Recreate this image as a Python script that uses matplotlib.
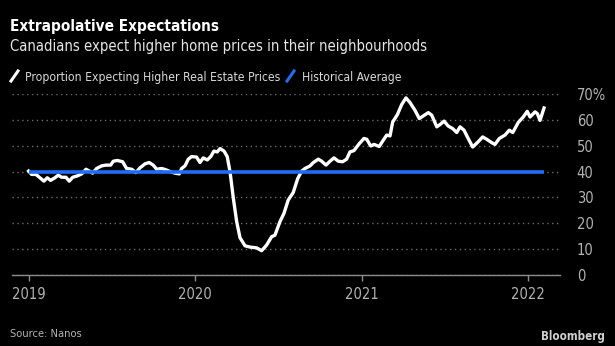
import matplotlib
matplotlib.use("Agg")
import matplotlib.pyplot as plt
from matplotlib.lines import Line2D

# ---- data ----
years = [2018.998, 2019.016, 2019.042, 2019.066, 2019.090, 2019.110, 2019.130, 2019.156, 2019.176,
         2019.197, 2019.222, 2019.242, 2019.263, 2019.290, 2019.317, 2019.343, 2019.363, 2019.383,
         2019.407, 2019.437, 2019.463, 2019.491, 2019.507, 2019.531, 2019.563, 2019.587, 2019.618,
         2019.643, 2019.667, 2019.698, 2019.723, 2019.747, 2019.768, 2019.798, 2019.824, 2019.852,
         2019.878, 2019.904, 2019.918, 2019.938, 2019.958, 2019.978, 2020.008, 2020.028, 2020.048,
         2020.072, 2020.093, 2020.112, 2020.132, 2020.149, 2020.173, 2020.192, 2020.209, 2020.229,
         2020.249, 2020.269, 2020.299, 2020.329, 2020.369, 2020.399, 2020.429, 2020.459, 2020.479,
         2020.509, 2020.533, 2020.559, 2020.589, 2020.616, 2020.640, 2020.660, 2020.690, 2020.710,
         2020.740, 2020.760, 2020.786, 2020.810, 2020.834, 2020.860, 2020.886, 2020.910, 2020.930,
         2020.954, 2020.986, 2021.014, 2021.031, 2021.055, 2021.075, 2021.106, 2021.130, 2021.151,
         2021.171, 2021.187, 2021.215, 2021.241, 2021.267, 2021.291, 2021.321, 2021.347, 2021.371,
         2021.401, 2021.422, 2021.452, 2021.472, 2021.496, 2021.521, 2021.548, 2021.572, 2021.592,
         2021.616, 2021.636, 2021.668, 2021.696, 2021.728, 2021.752, 2021.782, 2021.802, 2021.828,
         2021.862, 2021.888, 2021.909, 2021.942, 2021.972, 2021.996, 2022.013, 2022.043, 2022.057,
         2022.073, 2022.097]
proportion = [40.2, 38.9, 38.9, 37.6, 36.3, 37.6, 36.6, 37.6, 38.6,
              37.8, 37.8, 36.3, 37.8, 38.3, 39.1, 40.9, 40.2, 39.4,
              41.2, 42.2, 42.5, 42.5, 44.0, 44.3, 43.8, 41.2, 40.9,
              39.6, 41.4, 43.0, 43.5, 42.5, 40.9, 41.2, 40.7, 39.9,
              39.4, 39.1, 41.2, 42.2, 44.8, 45.8, 45.6, 43.5, 45.3,
              44.5, 45.8, 47.9, 47.6, 48.9, 47.9, 45.8, 39.9, 29.6,
              20.6, 14.4, 11.3, 10.8, 10.5, 9.4, 11.6, 14.8, 15.4,
              20.6, 23.8, 29.0, 31.9, 37.3, 40.2, 41.2, 42.2, 43.5,
              44.8, 44.0, 42.5, 44.0, 45.3, 44.0, 43.8, 44.8, 47.6,
              48.1, 50.8, 52.8, 52.5, 49.9, 50.5, 49.7, 52.1, 54.1,
              53.8, 59.2, 62.0, 65.9, 68.5, 66.7, 63.7, 60.5, 61.5,
              62.8, 61.8, 57.3, 58.2, 59.5, 57.6, 56.6, 55.1, 57.3,
              56.0, 53.4, 49.5, 51.2, 53.4, 52.5, 51.2, 50.5, 52.8,
              54.1, 56.0, 55.1, 59.0, 61.1, 63.3, 61.1, 63.1, 62.4,
              59.8, 64.6]
historical_average = 40.0
x_ticks = [2019, 2020, 2021, 2022]
x_tick_labels = ["2019", "2020", "2021", "2022"]
y_ticks = [0, 10, 20, 30, 40, 50, 60, 70]
y_tick_labels = ["0", "10", "20", "30", "40", "50", "60", "70%"]

title = "Extrapolative Expectations"
subtitle = "Canadians expect higher home prices in their neighbourhoods"
legend_labels = ["Proportion Expecting Higher Real Estate Prices", "Historical Average"]
source = "Source: Nanos"

# ---- style ----
W, H = 615, 346
BG = "black"
WHITE = "white"
BLUE = "#1e6ef5"
GRAY = "#b3b3b3"
plt.rcParams["font.family"] = ["DejaVu Sans"]
plt.rcParams["font.stretch"] = "condensed"

fig = plt.figure(figsize=(W / 100, H / 100), dpi=100, facecolor=BG)

def px(x, y):
    return x / W, 1 - y / H

left, right, top, bottom = 12, 560, 94, 275
ax = fig.add_axes([left / W, 1 - bottom / H, (right - left) / W, (bottom - top) / H])
ax.set_facecolor(BG)

ax.plot(years, proportion, color=WHITE, lw=2.4, solid_joinstyle="round", zorder=3, clip_on=False)
ax.hlines(historical_average, years[0], years[-1], color=BLUE, lw=2.6, zorder=4)

ax.set_xlim(2018.898, 2022.193)
ax.set_ylim(0, 70)

ax.set_yticks(y_ticks)
ax.set_yticklabels(y_tick_labels)
ax.yaxis.tick_right()
ax.tick_params(axis="y", length=0, pad=12, labelsize=10.5, labelcolor=GRAY)
for lab in ax.get_yticklabels():
    lab.set_horizontalalignment("left")
ax.grid(axis="y", color="#6a6a6a", linestyle=(0, (1, 2.5)), lw=1.0)

ax.set_xticks(x_ticks)
ax.set_xticklabels(x_tick_labels)
ax.tick_params(axis="x", length=4, width=1, color="#8c8c8c", pad=4.5, labelsize=10.5, labelcolor=GRAY)

for s in ["top", "left", "right"]:
    ax.spines[s].set_visible(False)
ax.spines["bottom"].set_color("#8c8c8c")
ax.spines["bottom"].set_linewidth(1)

# titles
fig.text(*px(10, 31), title, color=WHITE, fontsize=11, fontweight="bold", va="baseline", ha="left")
fig.text(*px(10, 51), subtitle, color="#e6e6e6", fontsize=10.6, va="baseline", ha="left")

# legend
def slash(x0, color):
    fig.add_artist(Line2D([x0 / W, (x0 + 7) / W], [1 - 81 / H, 1 - 71 / H],
                          color=color, lw=2.2, transform=fig.transFigure))
slash(11, WHITE)
fig.text(*px(25, 81), legend_labels[0], color="#d9d9d9", fontsize=8.7, va="baseline", ha="left")
slash(287, BLUE)
fig.text(*px(302, 81), legend_labels[1], color="#d9d9d9", fontsize=8.7, va="baseline", ha="left")

fig.text(*px(10, 337), source, color=GRAY, fontsize=8, va="baseline", ha="left")
fig.text(*px(605, 340), "Bloomberg", color="#d0d0d0", fontsize=8.3, fontweight="bold",
         va="baseline", ha="right")

fig.savefig("out.png", dpi=100, facecolor=BG)
